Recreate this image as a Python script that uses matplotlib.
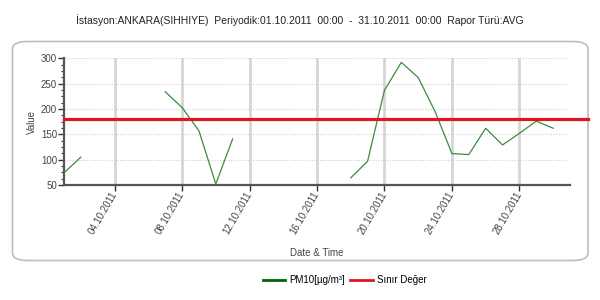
import matplotlib
matplotlib.use("Agg")
import matplotlib.pyplot as plt
import matplotlib.dates as mdates
from matplotlib.patches import FancyBboxPatch
from matplotlib.lines import Line2D
from matplotlib.ticker import MultipleLocator
import numpy as np
import datetime as dt

plt.rcParams['font.family'] = ['Liberation Sans', 'DejaVu Sans']

# daily PM10 averages, October 2011 (NaN = no data)
days = [dt.datetime(2011, 10, d) for d in range(1, 31)]
pm10 = [74, 105, np.nan, np.nan, np.nan, np.nan, 234, 203, 157, 52,
        141, np.nan, np.nan, np.nan, np.nan, np.nan, np.nan, 64, 97, 237,
        292, 262, 195, 112, 110, 162, 129, 152, 176, 162]
limit = 180
tick_days = [dt.datetime(2011, 10, d) for d in (4, 8, 12, 16, 20, 24, 28)]

fig = plt.figure(figsize=(6, 3), dpi=100)

# rounded frame around the chart
frame = FancyBboxPatch((12.5 / 600, 1 - 260.5 / 300), 575.5 / 600, 219 / 300,
                       boxstyle="round,pad=0,rounding_size=0.025",
                       transform=fig.transFigure, fc="none", ec="#bdbdbd",
                       lw=1.2, zorder=-1)
fig.patches.append(frame)

ax = fig.add_axes([64 / 600, 1 - 185 / 300, 506 / 600, 126.7 / 300])
ax.set_facecolor("none")

ax.plot(days, pm10, color="#3d8b3d", lw=0.9, zorder=3)
ax.axhline(limit, xmin=0, xmax=(588 - 64) / 506, color="#e0161e", lw=2.3,
           clip_on=False, zorder=4)

ax.set_xlim(dt.datetime(2011, 10, 1), dt.datetime(2011, 10, 31))
ax.set_ylim(50, 300)
ax.set_xticks(tick_days)
ax.xaxis.set_major_formatter(mdates.DateFormatter("%d.%m.%Y"))
ax.yaxis.set_major_locator(MultipleLocator(50))
ax.yaxis.set_minor_locator(MultipleLocator(12.5))

for d in tick_days:
    ax.axvline(d, color="#d6d6d6", lw=2, zorder=1)
for v in (100, 150, 200, 250, 300):
    ax.axhline(v, color="#cfcfcf", lw=0.8, ls=(0, (1, 1.5)), zorder=1)

for s in ("top", "right"):
    ax.spines[s].set_visible(False)
for s in ("left", "bottom"):
    ax.spines[s].set_color("#555555")
    ax.spines[s].set_linewidth(1.6)

ax.tick_params(axis="both", which="major", length=4, width=1, color="#333333",
               labelsize=7, labelcolor="#444444", pad=1)
ax.tick_params(axis="y", which="minor", length=2.5, width=0.8, color="#333333")
plt.setp(ax.get_xticklabels(), rotation=60, ha="right", va="center",
         rotation_mode="anchor")

ax.set_xlabel("Date & Time", fontsize=7, color="#444444", labelpad=9)
ax.set_ylabel("Value", fontsize=7, color="#444444", labelpad=3)

fig.text(0.5, 1 - 20 / 300,
         "İstasyon:ANKARA(SIHHIYE)  Periyodik:01.10.2011  00:00  -  31.10.2011  00:00  Rapor Türü:AVG",
         ha="center", va="center", fontsize=7.5, color="#222222")

handles = [Line2D([], [], color="#006400", lw=2),
           Line2D([], [], color="#e0161e", lw=2)]
fig.legend(handles, ["PM10[µg/m³]", "Sınır Değer"], loc="center",
           bbox_to_anchor=(344.5 / 600, 1 - 280 / 300), ncol=2, frameon=False,
           fontsize=7, handlelength=2.3, columnspacing=0.6, handletextpad=0.4)

fig.savefig("out.png", dpi=100)
